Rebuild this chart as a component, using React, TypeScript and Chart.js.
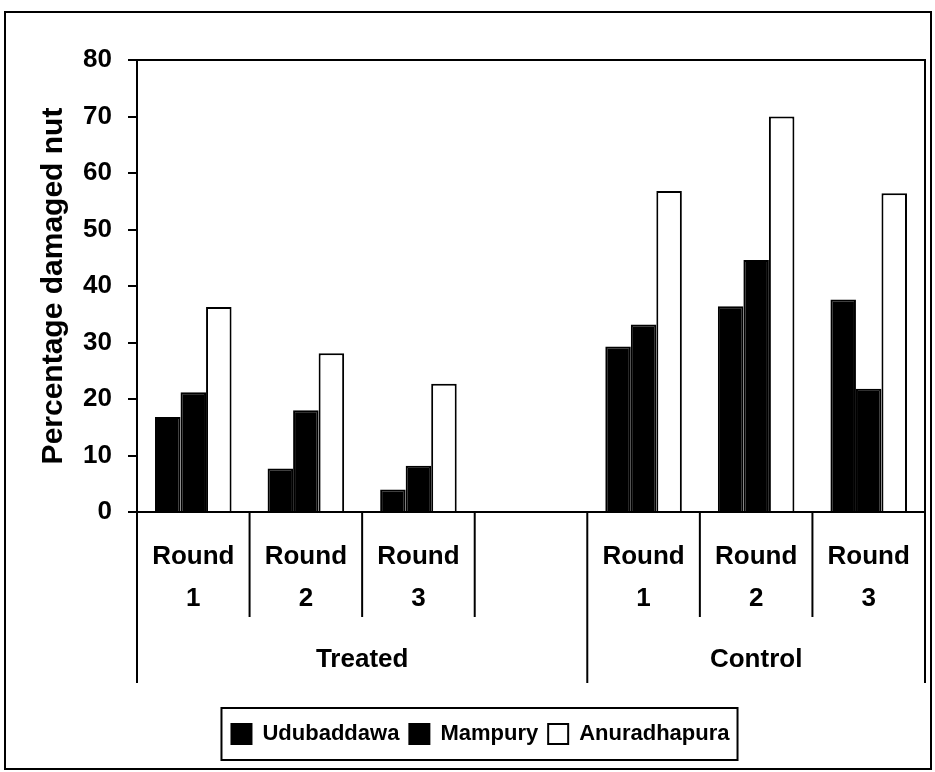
import React, { useEffect, useRef } from "react";
import { Chart, registerables } from "chart.js";

Chart.register(...registerables);

const categories: (string | string[])[] = [
  ["Round", "1"],
  ["Round", "2"],
  ["Round", "3"],
  "",
  ["Round", "1"],
  ["Round", "2"],
  ["Round", "3"],
];
const groupLabels = ["Treated", "Control"];
const seriesNames = ["Udubaddawa", "Mampury", "Anuradhapura"];
const udubaddawa = [16.8, 7.7, 4.0, null, 29.3, 36.4, 37.6];
const mampury = [21.2, 18.0, 8.2, null, 33.2, 44.6, 21.8];
const anuradhapura = [36.3, 28.1, 22.7, null, 56.8, 70.0, 56.4];
const yTicks = { min: 0, max: 80, step: 10 };
const yTitle = "Percentage damaged nut";

const FONT = '"Liberation Sans", Arial, sans-serif';
const AXIS_FONT = { size: 26, family: FONT, weight: "bold" as const };

const decorPlugin = {
  id: "decor",
  beforeDraw(chart: any) {
    const ctx = chart.ctx;
    ctx.save();
    ctx.fillStyle = "#ffffff";
    ctx.fillRect(0, 0, chart.width, chart.height);
    ctx.restore();
  },
  afterDraw(chart: any) {
    const ctx = chart.ctx;
    const area = chart.chartArea;
    const x = chart.scales.x;
    ctx.save();
    ctx.strokeStyle = "#000";
    ctx.lineWidth = 2;
    // outer frame
    ctx.strokeRect(5, 12, 926, 757);
    // plot frame
    ctx.strokeRect(area.left, area.top, area.right - area.left, area.bottom - area.top);
    // category boundaries
    const n = categories.length;
    const bounds: number[] = [];
    for (let b = 0; b <= n; b++) {
      if (b === 0) bounds.push(x.left);
      else if (b === n) bounds.push(x.right);
      else bounds.push((x.getPixelForValue(b - 1) + x.getPixelForValue(b)) / 2);
    }
    const longIdx = [0, 4, n];
    bounds.forEach((bx, b) => {
      const len = longIdx.includes(b) ? 171 : 105;
      ctx.beginPath();
      ctx.moveTo(bx, area.bottom);
      ctx.lineTo(bx, area.bottom + len);
      ctx.stroke();
    });
    // group labels
    ctx.fillStyle = "#000";
    ctx.font = `bold ${AXIS_FONT.size}px ${FONT}`;
    ctx.textAlign = "center";
    ctx.textBaseline = "middle";
    ctx.fillText(groupLabels[0], (bounds[0] + bounds[4]) / 2, area.bottom + 148);
    ctx.fillText(groupLabels[1], (bounds[4] + bounds[n]) / 2, area.bottom + 148);
    // legend box
    const lg = chart.legend;
    if (lg && lg.legendHitBoxes && lg.legendHitBoxes.length) {
      const hb = lg.legendHitBoxes;
      const l = Math.min(...hb.map((h: any) => h.left)) - 10;
      const r = Math.max(...hb.map((h: any) => h.left + h.width)) + 8;
      const cy = hb[0].top + hb[0].height / 2;
      ctx.strokeRect(l, cy - 26, r - l, 52);
    }
    ctx.restore();
  },
};

export default function App() {
  const ref = useRef<HTMLCanvasElement>(null);
  useEffect(() => {
    if (!ref.current) return;
    Chart.defaults.font.family = FONT;
    Chart.defaults.color = "#000";
    const chart = new Chart(ref.current, {
      type: "bar",
      data: {
        labels: categories,
        datasets: [
          { label: seriesNames[0], data: udubaddawa, backgroundColor: "#000", borderColor: "#000", borderWidth: 2 },
          { label: seriesNames[1], data: mampury, backgroundColor: "#000", borderColor: "#000", borderWidth: 2 },
          { label: seriesNames[2], data: anuradhapura, backgroundColor: "#fff", borderColor: "#000", borderWidth: 2 },
        ],
      },
      options: {
        responsive: false,
        animation: false,
        datasets: { bar: { barPercentage: 1, categoryPercentage: 0.68 } },
        layout: { padding: { top: 60, right: 10, left: 36, bottom: 17 } },
        plugins: {
          tooltip: { enabled: false },
          legend: {
            position: "bottom",
            labels: {
              boxWidth: 20,
              boxHeight: 20,
              padding: 10,
              color: "#000",
              font: { size: 22, family: FONT, weight: "bold" },
            },
          },
        },
        scales: {
          x: {
            grid: { display: false },
            border: { display: true, color: "#000", width: 2 },
            ticks: {
              color: "#000",
              padding: 16,
              maxRotation: 0,
              autoSkip: false,
              font: { ...AXIS_FONT, lineHeight: 1.6 },
            },
            afterFit: (s: any) => {
              s.height = 201;
            },
          },
          y: {
            min: yTicks.min,
            max: yTicks.max,
            ticks: {
              stepSize: yTicks.step,
              color: "#000",
              padding: 16,
              font: AXIS_FONT,
            },
            grid: { drawOnChartArea: false, drawTicks: true, tickLength: 9, color: "#000", lineWidth: 2 },
            border: { display: true, color: "#000", width: 2 },
            title: {
              display: true,
              text: yTitle,
              color: "#000",
              font: { size: 30, family: FONT, weight: "bold" },
              padding: { top: 0, bottom: 0 },
            },
            afterFit: (s: any) => {
              s.width = 101;
            },
          },
        },
      },
      plugins: [decorPlugin],
    });
    return () => chart.destroy();
  }, []);
  return (
    <div style={{ position: "absolute", left: 0, top: 0, width: 935, height: 772 }}>
      <canvas ref={ref} width={935} height={772} />
    </div>
  );
}
